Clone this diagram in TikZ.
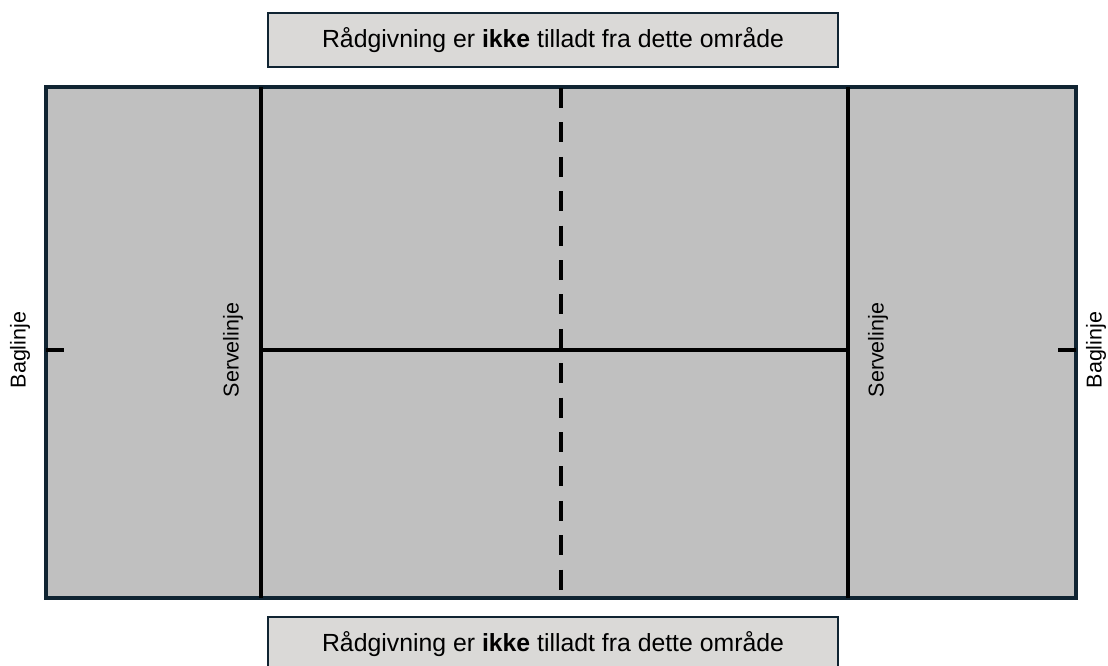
\documentclass[tikz,border=0pt]{standalone}
\usepackage{fontspec}
\setmainfont{Liberation Sans}
\definecolor{courtgray}{RGB}{192,192,192}
\definecolor{boxgray}{RGB}{218,217,215}
\definecolor{darkline}{RGB}{16,36,50}
\begin{document}
\begin{tikzpicture}[
    x=1pt, y=-1pt,
    court/.style={draw=darkline, fill=courtgray, line width=3.5pt, inner sep=0pt},
    infobox/.style={rectangle, draw=darkline, fill=boxgray, line width=1.6pt, minimum width=570pt, minimum height=54pt, inner sep=0pt, font=\fontsize{24.8}{28}\selectfont},
    courtline/.style={line width=3.5pt, black},
    midline/.style={line width=4pt, black, dash pattern=on 20pt off 14.4pt},
    sidelabel/.style={rotate=90, font=\fontsize{21.5}{25}\selectfont}
]
\useasboundingbox (0,0) rectangle (1108,666);

% Bane
\node[court, minimum width=1030pt, minimum height=511pt] (bane) at (561,342.5) {};

% Infofelter
\node[infobox] (top) at (553,40) {Rådgivning er \textbf{ikke} tilladt fra dette område};
\node[infobox] (bund) at (553,644) {Rådgivning er \textbf{ikke} tilladt fra dette område};

% Punkter på banen
\coordinate (sv1n) at (261,87);
\coordinate (sv1s) at (261,598);
\coordinate (sv2n) at (848,87);
\coordinate (sv2s) at (848,598);
\coordinate (sv1m) at (261,350);
\coordinate (sv2m) at (848,350);
\coordinate (midn) at (561,88);
\coordinate (mids) at (561,598);
\coordinate (bag1) at (46,350);
\coordinate (bag1i) at (64,350);
\coordinate (bag2) at (1076,350);
\coordinate (bag2i) at (1058,350);

% Servelinjer
\draw[courtline] (sv1n) -- (sv1s);
\draw[courtline] (sv2n) -- (sv2s);

% Midterlinje
\draw[courtline] (sv1m) -- (sv2m);
\draw[midline] (midn) -- (mids);

% Baglinjer
\draw[courtline] (bag1) -- (bag1i);
\draw[courtline] (bag2) -- (bag2i);

% Tekster
\node[sidelabel] (bagtxt1) at (20,350) {Baglinje};
\node[sidelabel] (bagtxt2) at (1096,350) {Baglinje};
\node[sidelabel] (servtxt1) at (233,350) {Servelinje};
\node[sidelabel] (servtxt2) at (878,350) {Servelinje};
\end{tikzpicture}
\end{document}
